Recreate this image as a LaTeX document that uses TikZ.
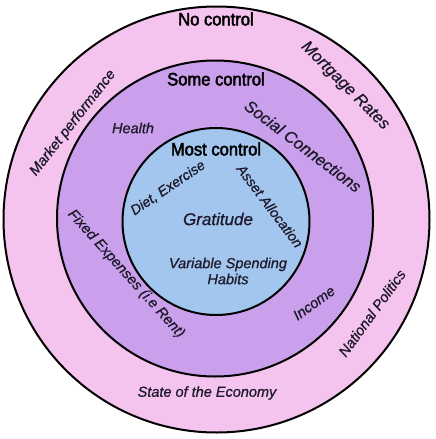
\documentclass[tikz,border=0pt]{standalone}
\usepackage{fontspec}
\setmainfont{Liberation Sans}
\newfontfamily\headfont[FakeBold=2.5,FakeStretch=0.92]{Liberation Sans}
\newfontfamily\labfont[FakeBold=0.8]{Liberation Sans}
\definecolor{pinkring}{HTML}{F5C4EE}
\definecolor{purplering}{HTML}{CA9FEB}
\definecolor{bluecore}{HTML}{A3C6EE}
\definecolor{txt}{HTML}{1E1A2C}
\begin{document}
\begin{tikzpicture}[x=1pt,y=-1pt,
  ring/.style={draw=black,line width=2pt},
  head/.style={text=black,font=\headfont\fontsize{18}{20}\selectfont,inner sep=0pt},
  lab/.style={text=txt,font=\labfont\itshape\fontsize{14.5}{16}\selectfont,inner sep=0pt,align=center},
  smalllab/.style={lab,font=\labfont\itshape\fontsize{14}{16}\selectfont},
  biglab/.style={lab,font=\labfont\itshape\fontsize{16.5}{18}\selectfont}]
\useasboundingbox (0,0) rectangle (436,439);
\fill[white] (0,0) rectangle (436,439);
\node[ring,circle,fill=pinkring,minimum size=426pt,inner sep=0pt] (outer) at (216.5,219.5) {};
\node[ring,circle,fill=purplering,minimum size=316pt,inner sep=0pt] (middle) at (215,218.5) {};
\node[ring,circle,fill=bluecore,minimum size=187pt,inner sep=0pt] (inner) at (216,221.5) {};
\node[head] (nocontrol) at (216,19) {No control};
\node[head] (somecontrol) at (216,79) {Some control};
\node[head] (mostcontrol) at (216,149) {Most control};
\node[lab,rotate=52] (market) at (73,123) {Market performance};
\node[biglab,rotate=-45] (mortgage) at (345,86) {Mortgage Rates};
\node[biglab,rotate=-37] (social) at (303,146) {Social Connections};
\node[lab] (health) at (133,128) {Health};
\node[smalllab,rotate=34] (diet) at (168,188) {Diet, Exercise};
\node[smalllab,rotate=-53] (asset) at (270,206) {Asset Allocation};
\node[lab,font=\labfont\itshape\fontsize{17}{19}\selectfont] (gratitude) at (218,219) {Gratitude};
\node[lab] (variable) at (228,271) {Variable Spending\\Habits};
\node[lab,rotate=-48] (fixed) at (126,274) {Fixed Expenses (i.e Rent)};
\node[lab,rotate=36] (income) at (314,303) {Income};
\node[lab,rotate=54] (politics) at (372,313) {National Politics};
\node[lab] (economy) at (207,393) {State of the Economy};
\end{tikzpicture}
\end{document}
